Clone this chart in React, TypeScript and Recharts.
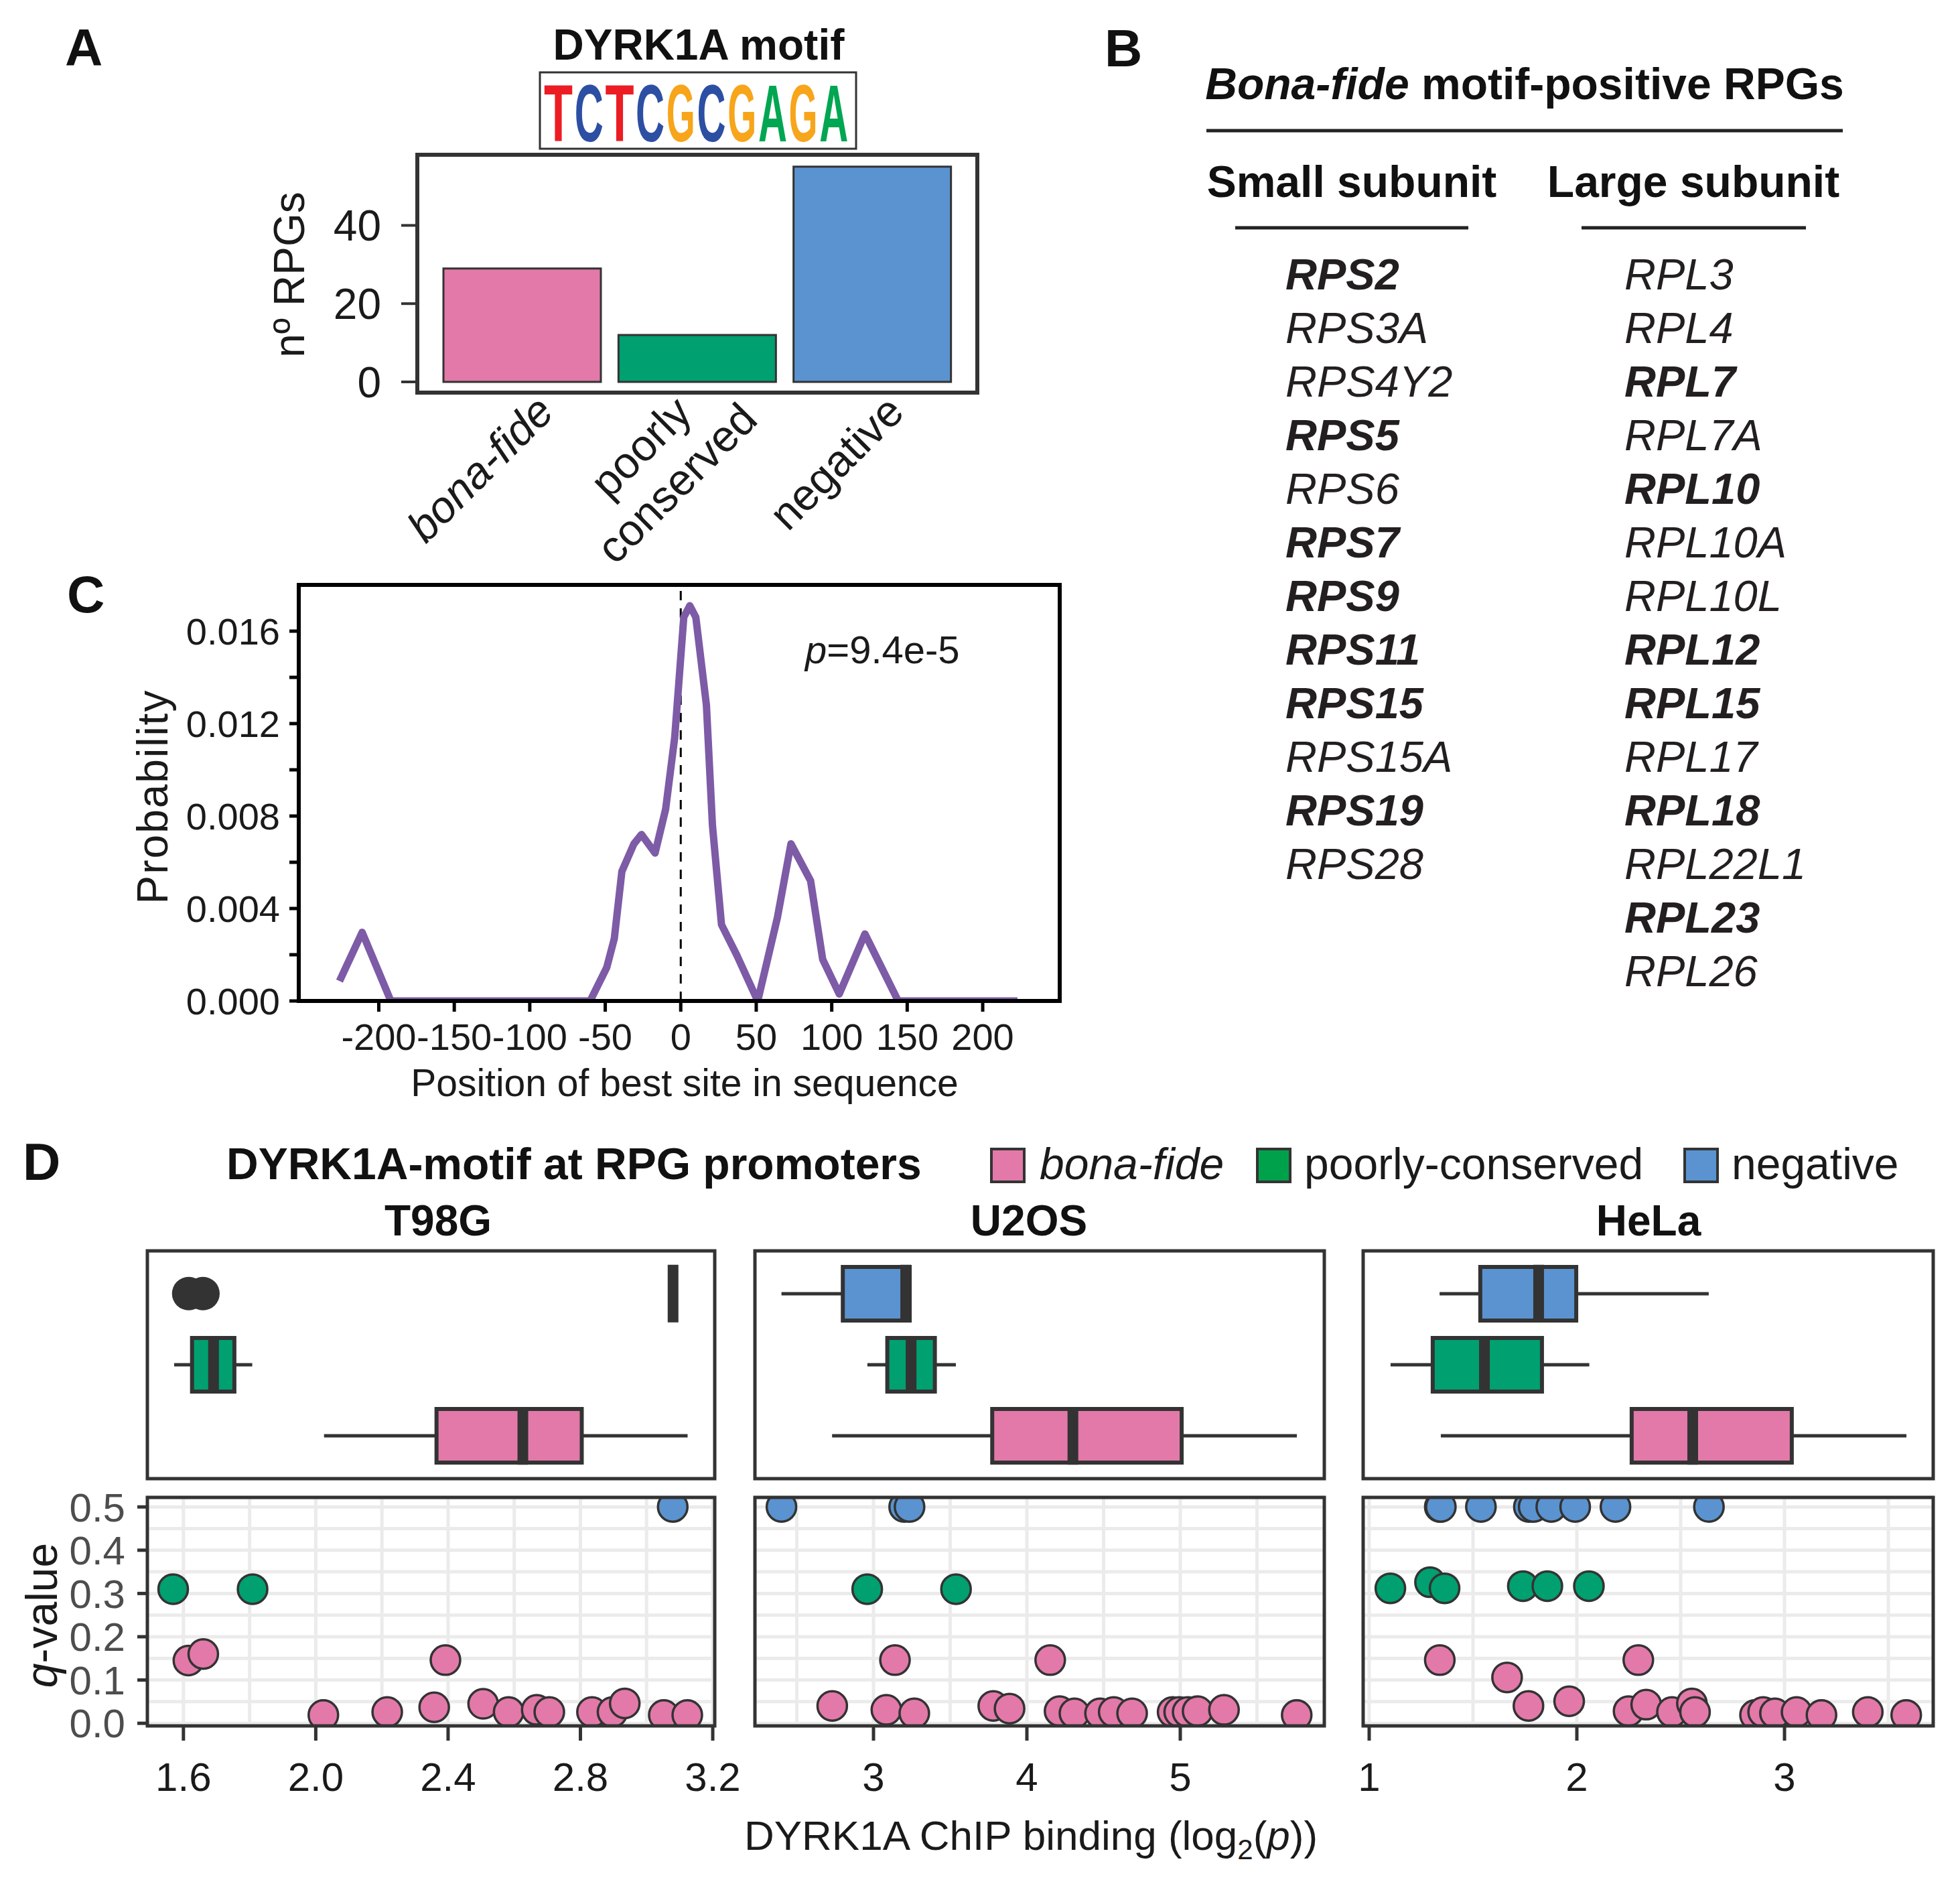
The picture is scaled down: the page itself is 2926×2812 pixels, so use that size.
import React from "react";
import {
  BarChart,
  Bar,
  Cell,
  XAxis,
  YAxis,
  LineChart,
  Line,
  ReferenceLine,
  ScatterChart,
  Scatter,
  CartesianGrid,
} from "recharts";

const FONT = "'Liberation Sans', Arial, Helvetica, sans-serif";
const INK = "#333333";
const TEXT = "#1a1a1a";
const PINK = "#E279A9";
const GREEN = "#00A070";
const BLUE = "#5A93D0";
const LEGEND_GREEN = "#00A14B";
const PURPLE = "#7D5BA6";
const GRID = "#EBEBEB";

// ---------- panel A
const rpgClasses = ["bona-fide", "poorly conserved", "negative"];
const rpgCounts = [29, 12, 55];
const rpgColors = [PINK, GREEN, BLUE];
const motifBases = ["T", "C", "T", "C", "G", "C", "G", "A", "G", "A"];
const baseColors: Record<string, string> = { A: "#00A651", C: "#2C4FA3", G: "#F7A51B", T: "#EC1C24" };
// bold advance widths (em) used to squeeze each logo letter into its column
const baseAdvance: Record<string, number> = { A: 0.722, C: 0.722, G: 0.778, T: 0.611 };

// ---------- panel B
const smallSubunitGenes = ["RPS2", "RPS3A", "RPS4Y2", "RPS5", "RPS6", "RPS7", "RPS9", "RPS11", "RPS15", "RPS15A", "RPS19", "RPS28"];
const largeSubunitGenes = ["RPL3", "RPL4", "RPL7", "RPL7A", "RPL10", "RPL10A", "RPL10L", "RPL12", "RPL15", "RPL17", "RPL18", "RPL22L1", "RPL23", "RPL26"];
const boldGenes = ["RPS2", "RPS5", "RPS7", "RPS9", "RPS11", "RPS15", "RPS19", "RPL7", "RPL10", "RPL12", "RPL15", "RPL18", "RPL23"];

// ---------- panel C
const sitePosition = [-226, -211, -192, -60, -49, -44, -39, -31, -26, -17, -10, -4, 2, 6, 10, 17, 21, 27, 37, 51, 64, 73, 86, 94, 105, 122, 144, 223];
const siteProbability = [0.00086, 0.00297, 0, 0, 0.00145, 0.0027, 0.0056, 0.0068, 0.0072, 0.0064, 0.0083, 0.0114, 0.0166, 0.0171, 0.0166, 0.0128, 0.0076, 0.0033, 0.002, 0, 0.0036, 0.0068, 0.0052, 0.0018, 0.0003, 0.0029, 0, 0];
const siteTicksX = [-200, -150, -100, -50, 0, 50, 100, 150, 200];
const siteTicksY = [0, 0.002, 0.004, 0.006, 0.008, 0.01, 0.012, 0.014, 0.016];

// ---------- panel D
const boxClasses = ["negative", "poorly-conserved", "bona-fide"]; // top to bottom
const classColor: Record<string, string> = { negative: BLUE, "poorly-conserved": GREEN, "bona-fide": PINK };

// [lower whisker, Q1, median, Q3, upper whisker] for negative, poorly-conserved, bona-fide
const t98gBoxes = [
  [3.08, 3.08, 3.08, 3.08, 3.08],
  [1.572, 1.626, 1.691, 1.754, 1.808],
  [2.025, 2.365, 2.626, 2.804, 3.124],
];
const t98gOutliers = [1.616, 1.659]; // negative row
const u2osBoxes = [
  [2.4, 2.8, 3.21, 3.236, 3.236],
  [2.96, 3.09, 3.245, 3.4, 3.537],
  [2.73, 3.774, 4.3, 5.009, 5.76],
];
const helaBoxes = [
  [1.339, 1.535, 1.816, 1.997, 2.635],
  [1.103, 1.306, 1.555, 1.832, 2.06],
  [1.345, 2.264, 2.558, 3.035, 3.587],
];

// [ChIP binding, q-value]
const t98gBonaFide = [[1.615, 0.145], [1.66, 0.16], [2.392, 0.146], [2.023, 0.019], [2.216, 0.026], [2.358, 0.037], [2.506, 0.045], [2.583, 0.026], [2.668, 0.031], [2.706, 0.026], [2.835, 0.026], [2.897, 0.026], [2.934, 0.046], [3.052, 0.019], [3.123, 0.019]];
const t98gPoorly = [[1.569, 0.31], [1.809, 0.31]];
const t98gNegative = [[3.079, 0.5]];
const u2osBonaFide = [[3.14, 0.146], [4.152, 0.146], [2.731, 0.04], [3.084, 0.031], [3.266, 0.023], [3.781, 0.04], [3.887, 0.034], [4.213, 0.028], [4.31, 0.023], [4.477, 0.023], [4.566, 0.026], [4.686, 0.023], [4.95, 0.026], [4.993, 0.026], [5.048, 0.026], [5.113, 0.028], [5.285, 0.031], [5.759, 0.019]];
const u2osPoorly = [[2.959, 0.31], [3.538, 0.31]];
const u2osNegative = [[2.4, 0.5], [3.2, 0.5], [3.235, 0.5]];
const helaBonaFide = [[1.34, 0.146], [2.296, 0.146], [1.664, 0.106], [1.767, 0.04], [1.963, 0.051], [2.249, 0.028], [2.334, 0.043], [2.458, 0.026], [2.554, 0.046], [2.569, 0.026], [2.858, 0.019], [2.897, 0.026], [2.954, 0.023], [3.058, 0.026], [3.178, 0.019], [3.401, 0.026], [3.586, 0.019]];
const helaPoorly = [[1.102, 0.312], [1.293, 0.326], [1.363, 0.312], [1.74, 0.317], [1.858, 0.317], [2.058, 0.317]];
const helaNegative = [[1.34, 0.5], [1.345, 0.5], [1.538, 0.5], [1.769, 0.5], [1.792, 0.5], [1.877, 0.5], [1.992, 0.5], [2.186, 0.5], [2.636, 0.5]];

const qTicks = [0, 0.1, 0.2, 0.3, 0.4, 0.5];
const qGrid = [0, 0.05, 0.1, 0.15, 0.2, 0.25, 0.3, 0.35, 0.4, 0.45, 0.5];
const Q_DOMAIN = [-0.006, 0.522];

const cellLines = [
  { name: "T98G", boxes: t98gBoxes, outliers: t98gOutliers, bona: t98gBonaFide, poorly: t98gPoorly, neg: t98gNegative,
    domain: [1.491, 3.206], ticks: [1.6, 2.0, 2.4, 2.8, 3.2], grid: [1.6, 1.8, 2.0, 2.2, 2.4, 2.6, 2.8, 3.0, 3.2], digits: 1 },
  { name: "U2OS", boxes: u2osBoxes, outliers: [], bona: u2osBonaFide, poorly: u2osPoorly, neg: u2osNegative,
    domain: [2.227, 5.939], ticks: [3, 4, 5], grid: [2.5, 3, 3.5, 4, 4.5, 5, 5.5], digits: 0 },
  { name: "HeLa", boxes: helaBoxes, outliers: [], bona: helaBonaFide, poorly: helaPoorly, neg: helaNegative,
    domain: [0.971, 3.716], ticks: [1, 2, 3], grid: [1, 1.5, 2, 2.5, 3, 3.5], digits: 0 },
];

// layout (px)
const D_PANELS = [
  { left: 220, right: 1067, title: 654 },
  { left: 1127, right: 1977, title: 1536 },
  { left: 2035, right: 2886, title: 2461 },
];
const BOX_TOP = 1867;
const BOX_BOTTOM = 2207;
const DOT_TOP = 2235;
const DOT_BOTTOM = 2576;

// ---------- shapes
const NoShape = () => <g />;
const WhiskerShape = (p: any) => {
  const { x, y, width, height } = p;
  if (!(width > 0)) return <g />;
  const cy = y + height / 2;
  return <line x1={x} x2={x + width} y1={cy} y2={cy} stroke={INK} strokeWidth={5} />;
};
const BoxShape = (p: any) => {
  const { x, y, width, height, payload } = p;
  if (!(width > 0)) return <g />;
  return <rect x={x} y={y} width={width} height={height} fill={classColor[payload?.cls] || PINK} stroke={INK} strokeWidth={6} />;
};
const MedianMark = (p: any) => <rect x={p.cx - 8} y={p.cy - 43} width={16} height={86} fill={INK} />;
const OutlierMark = (p: any) => <circle cx={p.cx} cy={p.cy} r={25} fill={INK} />;
const dotShape = (color: string) => (p: any) => (
  <circle cx={p.cx} cy={p.cy} r={22} fill={color} stroke={INK} strokeWidth={3.5} />
);

const ClassTick = (props: any) => {
  const { x, y, payload } = props;
  const label = String(payload.value);
  const lines = label.split(" ");
  const common = { fontSize: 66, fontFamily: FONT, fill: TEXT, fontStyle: label === "bona-fide" ? "italic" : "normal" };
  if (lines.length === 1) {
    return (
      <text transform={`translate(${x + 34},${y + 16}) rotate(-45)`} textAnchor="end" dy="0.35em" {...common}>
        {label}
      </text>
    );
  }
  return (
    <g transform={`translate(${x + 34},${y + 16}) rotate(-45) translate(-130,0)`}>
      {lines.map((l, i) => (
        <text key={i} x={0} y={(i - (lines.length - 1) / 2) * 76} dy="0.35em" textAnchor="middle" {...common}>
          {l}
        </text>
      ))}
    </g>
  );
};

// ---------- panels
const PanelA = () => {
  const rows = rpgClasses.map((cls, i) => ({ cls, n: rpgCounts[i] }));
  return (
    <div style={{ position: "absolute", left: 460, top: 221 }}>
      <BarChart width={1010} height={659} data={rows} margin={{ top: 10, right: 11, bottom: 0, left: 0 }}>
        <XAxis dataKey="cls" type="category" padding={{ left: 26, right: 26 }} height={294} axisLine={false} tickLine={false} tickSize={0} tickMargin={0} tick={<ClassTick />} interval={0} />
        <YAxis type="number" domain={[-2.74, 58.05]} allowDataOverflow ticks={[0, 20, 40]} interval={0} width={163} axisLine={false}
          tickSize={24} tickMargin={30} tickLine={{ stroke: INK, strokeWidth: 4 }} tick={{ fontSize: 64, fill: TEXT, fontFamily: FONT }} />
        <Bar dataKey="n" barSize={235} stroke={INK} strokeWidth={3} isAnimationActive={false}>
          {rows.map((r, i) => (
            <Cell key={r.cls} fill={rpgColors[i]} />
          ))}
        </Bar>
      </BarChart>
    </div>
  );
};

const PanelC = () => {
  const rows = sitePosition.map((pos, i) => ({ pos, p: siteProbability[i] }));
  return (
    <div style={{ position: "absolute", left: 250, top: 850 }}>
      <LineChart width={1345} height={740} data={rows} margin={{ top: 23, right: 13, bottom: 0, left: 0 }}>
        <XAxis type="number" dataKey="pos" domain={[-253, 251]} allowDataOverflow ticks={siteTicksX} interval={0} height={96} axisLine={false}
          tickSize={16} tickMargin={17} tickLine={{ stroke: "#000", strokeWidth: 5 }} tick={{ fontSize: 56, fill: TEXT, fontFamily: FONT }} />
        <YAxis type="number" domain={[0, 0.018]} allowDataOverflow ticks={siteTicksY} interval={0} width={196} axisLine={false}
          tickSize={14} tickMargin={14} tickLine={{ stroke: "#000", strokeWidth: 5 }}
          tickFormatter={(v: number) => (Math.round(v * 1000) % 4 === 0 ? v.toFixed(3) : "")}
          tick={{ fontSize: 56, fill: TEXT, fontFamily: FONT }} />
        <ReferenceLine x={0} stroke="#000" strokeWidth={3} strokeDasharray="14 12" />
        <Line type="linear" dataKey="p" stroke={PURPLE} strokeWidth={11} dot={false} strokeLinejoin="round" isAnimationActive={false} />
      </LineChart>
    </div>
  );
};

const BoxPanel = ({ cl, pos }: any) => {
  const width = pos.right - pos.left;
  const h = BOX_BOTTOM - BOX_TOP;
  const rows = cl.boxes.map((s: number[], i: number) => ({
    cls: boxClasses[i],
    s0: s[0], s1: s[1] - s[0], s2: s[2] - s[1], s3: s[3] - s[2], s4: s[4] - s[3],
  }));
  const medians = cl.boxes.map((s: number[], i: number) => ({ v: s[2], row: 3 - i }));
  const outs = cl.outliers.map((v: number) => ({ v, row: 3 }));
  const m = { top: 0, right: 0, bottom: 0, left: 0 };
  return (
    <>
      <div style={{ position: "absolute", left: pos.left, top: BOX_TOP }}>
        <BarChart width={width} height={h} data={rows} layout="vertical" margin={m} barSize={80}>
          <XAxis type="number" domain={cl.domain} allowDataOverflow hide />
          <YAxis type="category" dataKey="cls" hide padding={{ top: 11, bottom: 11 }} />
          <Bar dataKey="s0" stackId="b" shape={NoShape} isAnimationActive={false} />
          <Bar dataKey="s1" stackId="b" shape={WhiskerShape} isAnimationActive={false} />
          <Bar dataKey="s2" stackId="b" shape={BoxShape} isAnimationActive={false} />
          <Bar dataKey="s3" stackId="b" shape={BoxShape} isAnimationActive={false} />
          <Bar dataKey="s4" stackId="b" shape={WhiskerShape} isAnimationActive={false} />
        </BarChart>
      </div>
      <div style={{ position: "absolute", left: pos.left, top: BOX_TOP }}>
        <ScatterChart width={width} height={h} margin={m}>
          <XAxis type="number" dataKey="v" domain={cl.domain} allowDataOverflow hide />
          <YAxis type="number" dataKey="row" domain={[0.4, 3.6]} allowDataOverflow hide />
          <Scatter data={medians} shape={MedianMark} isAnimationActive={false} />
          <Scatter data={outs} shape={OutlierMark} isAnimationActive={false} />
        </ScatterChart>
      </div>
    </>
  );
};

const DotPanel = ({ cl, pos, showY }: any) => {
  const width = pos.right - pos.left;
  const yw = showY ? 140 : 0;
  const padL = 8;
  const padR = 40;
  const padT = 40;
  const h = DOT_BOTTOM - DOT_TOP;
  const cw = width + yw + padL + padR;
  const ch = h + padT + 110;
  const toPts = (arr: number[][]) => arr.map(([x, q]) => ({ x, q }));
  return (
    <div style={{ position: "absolute", left: pos.left - yw - padL, top: DOT_TOP - padT }}>
      <ScatterChart width={cw} height={ch} margin={{ top: padT, right: padR, bottom: 0, left: padL }}>
        <YAxis yAxisId="g" type="number" domain={Q_DOMAIN} ticks={qGrid} allowDataOverflow hide />
        <CartesianGrid yAxisId="g" vertical={false} stroke={GRID} strokeWidth={5} />
        <XAxis type="number" dataKey="x" domain={cl.domain} ticks={cl.ticks} interval={0} allowDataOverflow height={110} axisLine={false}
          tickSize={22} tickMargin={32} tickLine={{ stroke: INK, strokeWidth: 5 }}
          tickFormatter={(v: number) => v.toFixed(cl.digits)}
          tick={{ fontSize: 60, fill: TEXT, fontFamily: FONT }} />
        <YAxis type="number" dataKey="q" domain={Q_DOMAIN} ticks={qTicks} interval={0} allowDataOverflow width={yw} hide={!showY} axisLine={false}
          tickSize={15} tickMargin={18} tickLine={{ stroke: INK, strokeWidth: 5 }}
          tickFormatter={(v: number) => v.toFixed(1)}
          tick={{ fontSize: 60, fill: "#4D4D4D", fontFamily: FONT }} />
        {cl.grid.map((v: number) => (
          <ReferenceLine key={v} x={v} stroke={GRID} strokeWidth={5} />
        ))}
        <Scatter data={toPts(cl.bona)} shape={dotShape(PINK)} isAnimationActive={false} />
        <Scatter data={toPts(cl.poorly)} shape={dotShape(GREEN)} isAnimationActive={false} />
        <Scatter data={toPts(cl.neg)} shape={dotShape(BLUE)} isAnimationActive={false} />
      </ScatterChart>
    </div>
  );
};

const Overlay = () => {
  const bold = { fontFamily: FONT, fontWeight: 700, fill: "#111" };
  const reg = { fontFamily: FONT, fill: TEXT };
  return (
    <svg width={2926} height={2812} style={{ position: "absolute", left: 0, top: 0, pointerEvents: "none" }}>
      {/* panel letters */}
      <text x={97} y={98} fontSize={78} {...bold}>A</text>
      <text x={1649} y={99} fontSize={78} {...bold}>B</text>
      <text x={100} y={914} fontSize={78} {...bold}>C</text>
      <text x={34} y={1761} fontSize={78} {...bold}>D</text>

      {/* A */}
      <text x={1043} y={89} fontSize={64} textAnchor="middle" {...bold}>DYRK1A motif</text>
      <rect x={806} y={108} width={472} height={114} fill="#fff" stroke={INK} strokeWidth={3} />
      {motifBases.map((b, i) => (
        <text key={i} transform={`translate(${812 + i * 45.7},211) scale(${43 / (baseAdvance[b] * 120)},1)`}
          fontSize={120} fontFamily={FONT} fontWeight={700} fill={baseColors[b]}>{b}</text>
      ))}
      <rect x={623} y={231} width={836} height={355} fill="none" stroke={INK} strokeWidth={6} />
      <text transform="translate(432,410) rotate(-90)" textAnchor="middle" dominantBaseline="central" fontSize={64} {...reg}>nº RPGs</text>

      {/* B */}
      <text x={2276} y={148} fontSize={66} textAnchor="middle" {...bold}>
        <tspan fontStyle="italic">Bona-fide</tspan> motif-positive RPGs
      </text>
      <line x1={1801} x2={2751} y1={195} y2={195} stroke="#222" strokeWidth={5} />
      <text x={2018} y={294} fontSize={66} textAnchor="middle" {...bold}>Small subunit</text>
      <text x={2528} y={294} fontSize={66} textAnchor="middle" {...bold}>Large subunit</text>
      <line x1={1844} x2={2192} y1={340} y2={340} stroke="#222" strokeWidth={5} />
      <line x1={2361} x2={2696} y1={340} y2={340} stroke="#222" strokeWidth={5} />
      {smallSubunitGenes.map((g, i) => (
        <text key={g} x={1919} y={432 + i * 80} fontSize={65} fontStyle="italic" fontFamily={FONT}
          fontWeight={boldGenes.includes(g) ? 700 : 400} fill="#231F20">{g}</text>
      ))}
      {largeSubunitGenes.map((g, i) => (
        <text key={g} x={2425} y={432 + i * 80} fontSize={65} fontStyle="italic" fontFamily={FONT}
          fontWeight={boldGenes.includes(g) ? 700 : 400} fill="#231F20">{g}</text>
      ))}

      {/* C */}
      <rect x={446} y={873} width={1136} height={621} fill="none" stroke="#000" strokeWidth={6} />
      <text transform="translate(228,1189) rotate(-90)" textAnchor="middle" dominantBaseline="central" fontSize={64} letterSpacing={2} {...reg}>Probability</text>
      <text x={1022} y={1636} fontSize={57} textAnchor="middle" {...reg}>Position of best site in sequence</text>
      <text x={1202} y={990} fontSize={58} {...reg}><tspan fontStyle="italic">p</tspan>=9.4e-5</text>

      {/* D */}
      <text x={338} y={1760} fontSize={66} {...bold}>DYRK1A-motif at RPG promoters</text>
      <rect x={1480} y={1715} width={49} height={49} fill={PINK} stroke={INK} strokeWidth={4} />
      <text x={1552} y={1760} fontSize={66} fontStyle="italic" {...reg}>bona-fide</text>
      <rect x={1877} y={1715} width={49} height={49} fill={LEGEND_GREEN} stroke={INK} strokeWidth={4} />
      <text x={1947} y={1760} fontSize={66} {...reg}>poorly-conserved</text>
      <rect x={2515} y={1715} width={49} height={49} fill={BLUE} stroke={INK} strokeWidth={4} />
      <text x={2585} y={1760} fontSize={66} {...reg}>negative</text>
      {cellLines.map((cl, i) => (
        <text key={cl.name} x={D_PANELS[i].title} y={1844} fontSize={64} textAnchor="middle" {...bold}>{cl.name}</text>
      ))}
      {D_PANELS.map((p, i) => (
        <g key={i}>
          <rect x={p.left} y={BOX_TOP} width={p.right - p.left} height={BOX_BOTTOM - BOX_TOP} fill="none" stroke={INK} strokeWidth={5} />
          <rect x={p.left} y={DOT_TOP} width={p.right - p.left} height={DOT_BOTTOM - DOT_TOP} fill="none" stroke={INK} strokeWidth={5} />
        </g>
      ))}
      <text transform="translate(62,2411) rotate(-90)" textAnchor="middle" dominantBaseline="central" fontSize={66} {...reg}>
        <tspan fontStyle="italic">q</tspan>-value
      </text>
      <text x={1539} y={2761} fontSize={62} textAnchor="middle" {...reg}>
        DYRK1A ChIP binding (log<tspan fontSize={42} dy={14}>2</tspan><tspan dy={-14}>(</tspan><tspan fontStyle="italic">p</tspan>))
      </text>
    </svg>
  );
};

const App = () => (
  <div style={{ position: "absolute", left: 0, top: 0, width: 2926, height: 2812, background: "#fff", fontFamily: FONT, overflow: "hidden" }}>
    <PanelA />
    <PanelC />
    {cellLines.map((cl, i) => (
      <React.Fragment key={cl.name}>
        <BoxPanel cl={cl} pos={D_PANELS[i]} />
        <DotPanel cl={cl} pos={D_PANELS[i]} showY={i === 0} />
      </React.Fragment>
    ))}
    <Overlay />
  </div>
);

export default App;
